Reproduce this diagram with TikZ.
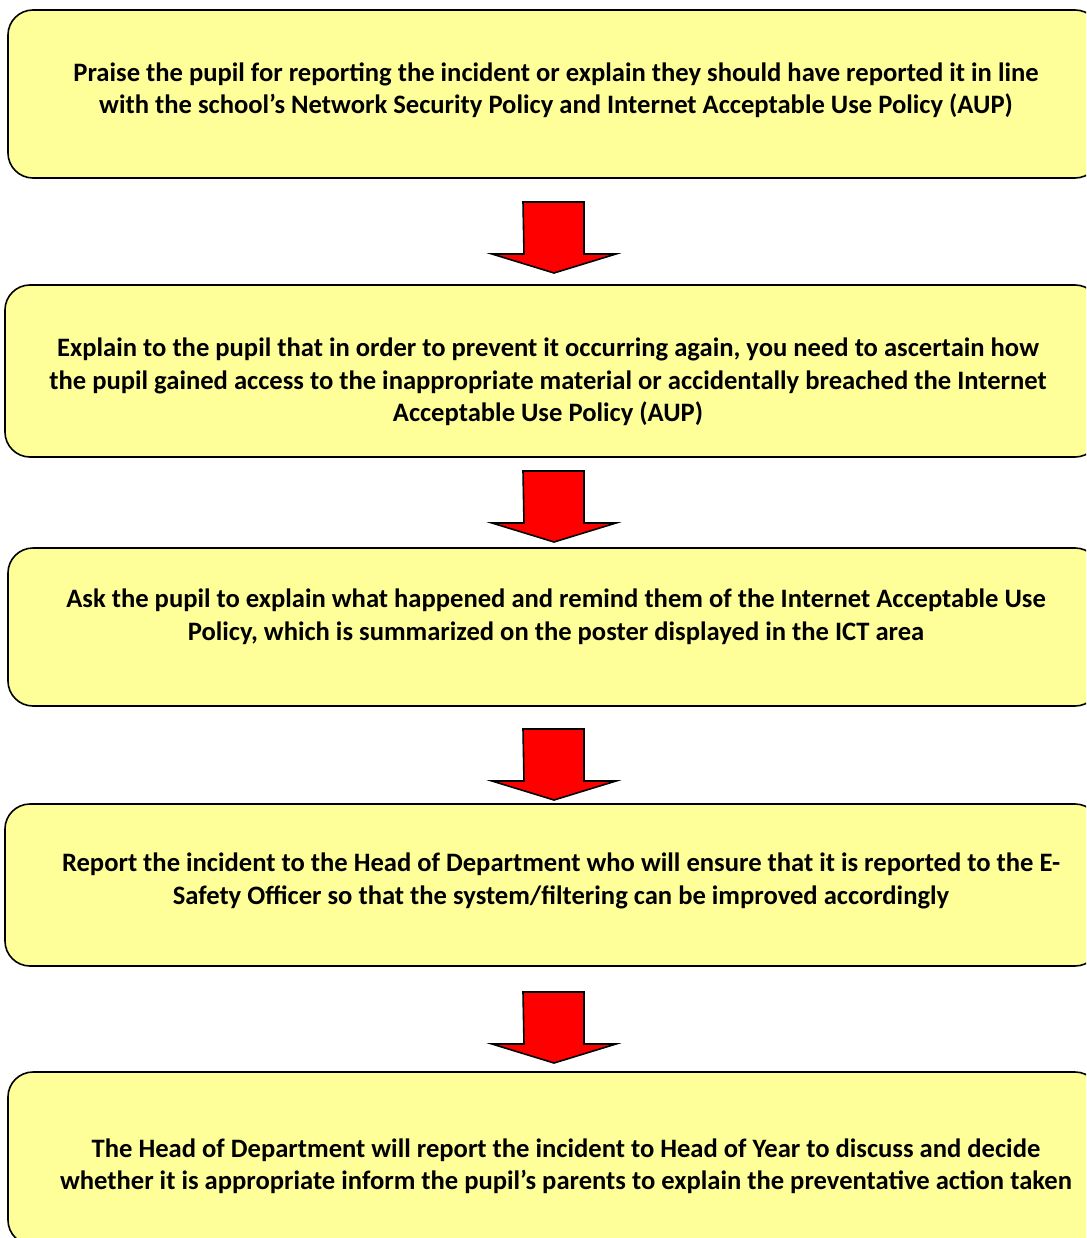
\documentclass[tikz,border=0pt]{standalone}
\usepackage{fontspec}
\setmainfont{Carlito}
\definecolor{boxyellow}{RGB}{255,255,153}
\definecolor{arrowred}{RGB}{255,0,0}
\tikzset{
  stepbox/.style={draw=black, line width=1.6pt, fill=boxyellow, rounded corners=25pt},
  steptext/.style={align=center, font=\fontsize{26.6pt}{32.5pt}\selectfont\bfseries, inner sep=0pt},
  redarrow/.style={draw=black, line width=1.6pt, fill=arrowred}
}
\begin{document}
\begin{tikzpicture}[x=1pt,y=-1pt]
\useasboundingbox (0,0) rectangle (1086,1238);
\clip (0,0) rectangle (1086,1238);
% boxes
\node[stepbox, minimum width=1092pt, minimum height=168pt] (box1) at (554,94) {};
\node[stepbox, minimum width=1095pt, minimum height=172pt] (box2) at (552.5,371) {};
\node[stepbox, minimum width=1092pt, minimum height=158pt] (box3) at (554,627) {};
\node[stepbox, minimum width=1095pt, minimum height=162pt] (box4) at (552.5,885) {};
\node[stepbox, minimum width=1092pt, minimum height=173pt] (box5) at (554,1158.5) {};
% texts
\node[steptext] (txt1) at (556,90) {Praise the pupil for reporting the incident or explain they should have reported it in line\\with the school’s Network Security Policy and Internet Acceptable Use Policy (AUP)};
\node[steptext] (txt2) at (548,382) {Explain to the pupil that in order to prevent it occurring again, you need to ascertain how\\the pupil gained access to the inappropriate material or accidentally breached the Internet\\Acceptable Use Policy (AUP)};
\node[steptext] (txt3) at (556,617) {Ask the pupil to explain what happened and remind them of the Internet Acceptable Use\\Policy, which is summarized on the poster displayed in the ICT area};
\node[steptext] (txt4) at (561,881) {Report the incident to the Head of Department who will ensure that it is reported to the E-\\Safety Officer so that the system/filtering can be improved accordingly};
\node[steptext] (txt5) at (566,1166) {The Head of Department will report the incident to Head of Year to discuss and decide\\whether it is appropriate inform the pupil’s parents to explain the preventative action taken};
% arrows
\foreach \n/\t in {1/202,2/471,3/729,4/992}
  \draw[redarrow] (523,\t) coordinate (arr\n) -- ++(61,0) -- ++(0,52) -- ++(32,0) -- ++(-62,19) -- ++(-62,-19) -- ++(32,0) -- cycle;
\end{tikzpicture}
\end{document}
